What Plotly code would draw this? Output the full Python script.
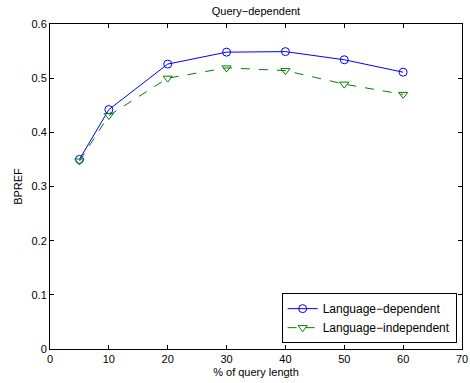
import plotly.graph_objects as go

x_vals = [5, 10, 20, 30, 40, 50, 60]
lang_dep = [0.350, 0.442, 0.526, 0.548, 0.549, 0.534, 0.511]
lang_indep = [0.347, 0.431, 0.500, 0.519, 0.514, 0.489, 0.470]
x_ticks = [0, 10, 20, 30, 40, 50, 60, 70]
y_ticks = [0, 0.1, 0.2, 0.3, 0.4, 0.5, 0.6]
y_tick_labels = ["0", "0.1", "0.2", "0.3", "0.4", "0.5", "0.6"]

FONT = "Liberation Sans, Arial"

fig = go.Figure()
fig.add_trace(go.Scatter(
    x=x_vals, y=lang_dep, mode="lines+markers", name="Language−dependent",
    line=dict(color="#0000ff", width=1),
    marker=dict(symbol="circle-open", size=8, color="#0000ff", line=dict(width=1)),
))
fig.add_trace(go.Scatter(
    x=x_vals, y=lang_indep, mode="lines+markers", name="Language−independent",
    line=dict(color="#008000", width=1, dash="dash"),
    marker=dict(symbol="triangle-down-open", size=8, color="#008000", line=dict(width=1)),
))

axis_common = dict(
    showgrid=False, zeroline=False, showline=True, linecolor="black", linewidth=1,
    mirror="ticks", ticks="inside", ticklen=4, tickcolor="black", automargin=False,
    tickfont=dict(family=FONT, size=11, color="black"),
)
fig.update_xaxes(range=[0, 70], tickvals=x_ticks, **axis_common,
                 title=dict(text="% of query length", standoff=4,
                            font=dict(family=FONT, size=11, color="black")))
fig.update_yaxes(range=[0, 0.6], tickvals=y_ticks, ticktext=y_tick_labels, **axis_common,
                 title=dict(text="BPREF", standoff=6,
                            font=dict(family=FONT, size=11, color="black")))

fig.update_layout(
    width=470, height=383,
    margin=dict(l=50, r=8, t=24, b=34),
    paper_bgcolor="white", plot_bgcolor="white",
    title=dict(text="Query−dependent", x=0.5, xref="paper", y=1 - 11 / 383, yanchor="middle",
               font=dict(family=FONT, size=11, color="black")),
    legend=dict(x=0.987, y=0.018, xanchor="right", yanchor="bottom",
                bordercolor="black", borderwidth=1, bgcolor="white",
                font=dict(family=FONT, size=12, color="black"),
                tracegroupgap=0, itemwidth=30),
    showlegend=True,
)

fig.write_html("out.html", config={"displayModeBar": False},
               post_script="document.body.style.margin='0';")
